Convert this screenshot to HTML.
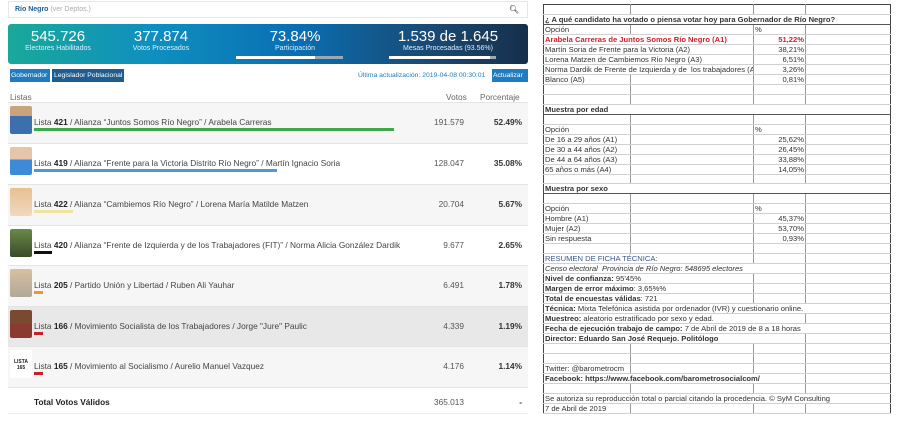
<!DOCTYPE html>
<html><head><meta charset="utf-8"><style>
*{box-sizing:border-box;margin:0;padding:0}
body{width:900px;height:421px;background:#fff;font-family:"Liberation Sans",sans-serif;position:relative;overflow:hidden;color:#333}
.a{position:absolute;white-space:nowrap}
.row{position:absolute;left:8px;width:520px;height:41px;border-top:1px solid #e4e4e4}
.ph{position:absolute;left:2px;top:3px;width:22px;height:28px;border-radius:2px}
.tx{position:absolute;left:26px;top:14px;font-size:8.3px;color:#444;white-space:nowrap}
.tx b{color:#222}
.bar{position:absolute;left:26px;top:25px;height:3px}
.v{position:absolute;right:64px;top:14px;font-size:8.3px;color:#555}
.p{position:absolute;right:6px;top:14px;font-size:8.3px;font-weight:bold;color:#333}
table{position:absolute;left:543px;top:4px;border-collapse:collapse;border:1.5px solid #444;font-size:7.6px;table-layout:fixed}
td{height:9.88px;line-height:9px;padding:0 1px;border-bottom:1px solid #d0d0d0;white-space:nowrap;overflow:visible;color:#333}
td.c1{width:87px;border-right:1px solid #999}
td.c2{width:123px;border-right:1px solid #999}
td.c3{width:52px;border-right:1px solid #999;text-align:right}
td.c4{width:85px}
.bd td{font-weight:bold}
</style></head><body>
<div class="a" style="left:8px;top:1px;width:520px;height:17px;border:1px solid #e6e6e6;font-size:7px;padding:4px 6px;color:#1d5d92"><b style="font-weight:bold">Río Negro</b> <span style="color:#aaa">(ver Deptos.)</span><span style="position:absolute;right:8px;top:3px;color:#000;font-size:8px">&#x1F50D;&#xFE0E;</span></div>
<div class="a" style="left:8px;top:24px;width:520px;height:40px;border-radius:3px;background:linear-gradient(90deg,#1aa89a 0%,#0f8fbf 28%,#0a6fb3 55%,#1a4872 82%,#162f4a 100%);color:#fff;text-align:center">
 <div class="a" style="left:10px;top:4px;width:80px;font-size:15px">545.726</div><div class="a" style="left:10px;top:21px;width:80px;font-size:7px;color:#d8f0ff">Electores Habilitados</div>
 <div class="a" style="left:108px;top:4px;width:90px;font-size:15px">377.874</div><div class="a" style="left:108px;top:21px;width:90px;font-size:7px;color:#d8f0ff">Votos Procesados</div>
 <div class="a" style="left:232px;top:4px;width:110px;font-size:15px">73.84%</div><div class="a" style="left:232px;top:21px;width:110px;font-size:7px;color:#d8f0ff">Participación</div>
 <div class="a" style="left:228px;top:32px;width:107px;height:3px;background:#9aa9b6"><div style="width:74%;height:3px;background:#fff"></div></div>
 <div class="a" style="left:380px;top:4px;width:120px;font-size:15px">1.539 de 1.645</div><div class="a" style="left:380px;top:21px;width:120px;font-size:7px;color:#d8f0ff">Mesas Procesadas (93.56%)</div>
 <div class="a" style="left:381px;top:32px;width:107px;height:3px;background:#9aa9b6"><div style="width:94%;height:3px;background:#fff"></div></div>
</div>
<div class="a" style="left:10px;top:69px;width:40px;height:13px;background:#1f7cc0;color:#fff;font-size:6.8px;padding:3px 1px;overflow:hidden">Gobernador</div>
<div class="a" style="left:52px;top:69px;width:72px;height:13px;background:#1d5d92;color:#fff;font-size:6.8px;padding:3px 2px;overflow:hidden">Legislador Poblacional</div>
<div class="a" style="left:358px;top:72px;font-size:6.8px;color:#1f7cc0">Última actualización: 2019-04-08 00:30:01</div>
<div class="a" style="left:492px;top:69px;width:36px;height:13px;background:#1f7cc0;color:#fff;font-size:6.8px;padding:3px 1px;overflow:hidden">Actualizar</div>
<div class="a" style="left:10px;top:92px;font-size:8.3px;color:#666">Listas</div>
<div class="a" style="left:446px;top:92px;font-size:8.3px;color:#666">Votos</div>
<div class="a" style="left:480px;top:92px;font-size:8.3px;color:#666">Porcentaje</div>

<div class="row" style="top:102px;background:#f6f6f6"><div class="ph" style="background:linear-gradient(#c9a37a 0 35%,#3d6fae 35%)"></div><div class="tx">Lista <b>421</b> / Alianza “Juntos Somos Río Negro” / Arabela Carreras</div><div class="bar" style="width:360px;background:#3ea84a"></div><div class="v">191.579</div><div class="p">52.49%</div></div>
<div class="row" style="top:143px;background:#fff"><div class="ph" style="background:linear-gradient(#e6c5a8 0 45%,#3d8ad8 45%)"></div><div class="tx">Lista <b>419</b> / Alianza “Frente para la Victoria Distrito Río Negro” / Martín Ignacio Soria</div><div class="bar" style="width:243px;background:#4a9ad8"></div><div class="v">128.047</div><div class="p">35.08%</div></div>
<div class="row" style="top:184px;background:#f6f6f6"><div class="ph" style="background:linear-gradient(#e8c090,#f0d8c0)"></div><div class="tx">Lista <b>422</b> / Alianza “Cambiemos Río Negro” / Lorena María Matilde Matzen</div><div class="bar" style="width:39px;background:#efe3a0"></div><div class="v">20.704</div><div class="p">5.67%</div></div>
<div class="row" style="top:225px;background:#fff"><div class="ph" style="background:linear-gradient(#6a8a4a,#3a4a2a)"></div><div class="tx">Lista <b>420</b> / Alianza “Frente de Izquierda y de los Trabajadores (FIT)” / Norma Alicia González Dardik</div><div class="bar" style="width:18px;background:#111"></div><div class="v">9.677</div><div class="p">2.65%</div></div>
<div class="row" style="top:265px;background:#f6f6f6"><div class="ph" style="background:linear-gradient(#d8c0a0,#b0a898)"></div><div class="tx">Lista <b>205</b> / Partido Unión y Libertad / Ruben Ali Yauhar</div><div class="bar" style="width:9px;background:#e89a3a"></div><div class="v">6.491</div><div class="p">1.78%</div></div>
<div class="row" style="top:306px;background:#e8e8e8"><div class="ph" style="background:linear-gradient(#7a4a30 0 50%,#8a3a30 50%)"></div><div class="tx">Lista <b>166</b> / Movimiento Socialista de los Trabajadores / Jorge "Jure" Paulic</div><div class="bar" style="width:9px;background:#c8202a"></div><div class="v">4.339</div><div class="p">1.19%</div></div>
<div class="row" style="top:346px;background:#f6f6f6"><div class="ph" style="background:#fff;font-size:5px;font-weight:bold;text-align:center;padding-top:9px;line-height:6px;color:#222">LISTA<br>165</div><div class="tx">Lista <b>165</b> / Movimiento al Socialismo / Aurelio Manuel Vazquez</div><div class="bar" style="width:9px;background:#c8202a"></div><div class="v">4.176</div><div class="p">1.14%</div></div>
<div class="row" style="top:387px;height:27px;background:#fff;border-bottom:1px solid #eee"><div class="tx" style="top:9px"><b>Total Votos Válidos</b></div><div class="v" style="top:9px">365.013</div><div class="p" style="top:9px">-</div></div>

<table>
<tr><td class="c1"></td><td class="c2"></td><td class="c3"></td><td class="c4"></td></tr>
<tr class="bd"><td colspan="4" style="border-bottom:1px solid #555">¿ A qué candidato ha votado o piensa votar hoy para Gobernador de Río Negro?</td></tr>
<tr><td class="c1">Opción</td><td class="c2"></td><td class="c3" style="text-align:left">%</td><td class="c4"></td></tr>
<tr class="bd"><td class="c1" colspan="2" style="color:#d0202a;border-right:1px solid #999">Arabela Carreras de Juntos Somos Río Negro (A1)</td><td class="c3" style="color:#d0202a">51,22%</td><td class="c4"></td></tr>
<tr><td colspan="2" style="border-right:1px solid #999">Martín Soria de Frente para la Victoria (A2)</td><td class="c3">38,21%</td><td class="c4"></td></tr>
<tr><td colspan="2" style="border-right:1px solid #999">Lorena Matzen de Cambiemos Río Negro (A3)</td><td class="c3">6,51%</td><td class="c4"></td></tr>
<tr><td colspan="2" style="border-right:1px solid #999;overflow:hidden;max-width:210px">Norma Dardik de Frente de Izquierda y de&nbsp; los trabajadores (A4)</td><td class="c3">3,26%</td><td class="c4"></td></tr>
<tr><td class="c1">Blanco (A5)</td><td class="c2"></td><td class="c3">0,81%</td><td class="c4"></td></tr>
<tr><td class="c1"></td><td class="c2"></td><td class="c3"></td><td class="c4"></td></tr>
<tr><td class="c1"></td><td class="c2"></td><td class="c3"></td><td class="c4"></td></tr>
<tr class="bd"><td colspan="4" style="border-bottom:1px solid #555">Muestra por edad</td></tr>
<tr><td class="c1"></td><td class="c2"></td><td class="c3"></td><td class="c4"></td></tr>
<tr><td class="c1">Opción</td><td class="c2"></td><td class="c3" style="text-align:left">%</td><td class="c4"></td></tr>
<tr><td class="c1">De 16 a 29 años (A1)</td><td class="c2"></td><td class="c3">25,62%</td><td class="c4"></td></tr>
<tr><td class="c1">De 30 a 44 años (A2)</td><td class="c2"></td><td class="c3">26,45%</td><td class="c4"></td></tr>
<tr><td class="c1">De 44 a 64 años (A3)</td><td class="c2"></td><td class="c3">33,88%</td><td class="c4"></td></tr>
<tr><td class="c1">65 años o más (A4)</td><td class="c2"></td><td class="c3">14,05%</td><td class="c4"></td></tr>
<tr><td class="c1"></td><td class="c2"></td><td class="c3"></td><td class="c4"></td></tr>
<tr class="bd"><td colspan="4" style="border-bottom:1px solid #555">Muestra por sexo</td></tr>
<tr><td class="c1"></td><td class="c2"></td><td class="c3"></td><td class="c4"></td></tr>
<tr><td class="c1">Opción</td><td class="c2"></td><td class="c3" style="text-align:left">%</td><td class="c4"></td></tr>
<tr><td class="c1">Hombre (A1)</td><td class="c2"></td><td class="c3">45,37%</td><td class="c4"></td></tr>
<tr><td class="c1">Mujer (A2)</td><td class="c2"></td><td class="c3">53,70%</td><td class="c4"></td></tr>
<tr><td class="c1">Sin respuesta</td><td class="c2"></td><td class="c3">0,93%</td><td class="c4"></td></tr>
<tr><td class="c1"></td><td class="c2"></td><td class="c3"></td><td class="c4"></td></tr>
<tr><td colspan="2" style="color:#3a5a8a;border-right:1px solid #999">RESUMEN DE FICHA TÉCNICA:</td><td class="c3"></td><td class="c4"></td></tr>
<tr><td colspan="3" style="font-style:italic;border-right:1px solid #999">Censo electoral&nbsp; Provincia de Río Negro: 548695 electores</td><td class="c4"></td></tr>
<tr><td colspan="2" style="border-right:1px solid #999"><b>Nivel de confianza:</b> 95'45%</td><td class="c3"></td><td class="c4"></td></tr>
<tr><td colspan="2" style="border-right:1px solid #999"><b>Margen de error máximo</b>: 3,65%%</td><td class="c3"></td><td class="c4"></td></tr>
<tr><td colspan="2" style="border-right:1px solid #999"><b>Total de encuestas válidas</b>: 721</td><td class="c3"></td><td class="c4"></td></tr>
<tr><td colspan="4"><b>Técnica:</b> Mixta Telefónica asistida por ordenador (IVR) y cuestionario online.</td></tr>
<tr><td colspan="3" style="border-right:1px solid #999"><b>Muestreo:</b> aleatorio estratificado por sexo y edad.</td><td class="c4"></td></tr>
<tr><td colspan="4"><b>Fecha de ejecución trabajo de campo:</b> 7 de Abril de 2019 de 8 a 18 horas</td></tr>
<tr><td colspan="3" style="border-right:1px solid #999"><b>Director: Eduardo San José Requejo. Politólogo</b></td><td class="c4"></td></tr>
<tr><td class="c1"></td><td class="c2"></td><td class="c3"></td><td class="c4"></td></tr>
<tr><td class="c1"></td><td class="c2"></td><td class="c3"></td><td class="c4"></td></tr>
<tr><td class="c1">Twitter: @barometrocm</td><td class="c2"></td><td class="c3"></td><td class="c4"></td></tr>
<tr><td colspan="3" style="border-right:1px solid #999"><b>Facebook: https://www.facebook.com/barometrosocialcom/</b></td><td class="c4"></td></tr>
<tr><td class="c1"></td><td class="c2"></td><td class="c3"></td><td class="c4"></td></tr>
<tr><td colspan="4">Se autoriza su reproducción total o parcial citando la procedencia. © SyM Consulting</td></tr>
<tr><td class="c1">7 de Abril de 2019</td><td class="c2"></td><td class="c3"></td><td class="c4"></td></tr>
</table>
</body></html>
